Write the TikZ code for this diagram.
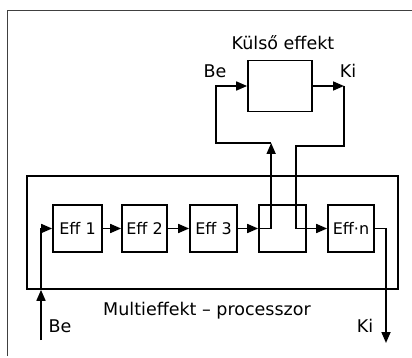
\documentclass[tikz,border=0pt]{standalone}
\usepackage{fontspec}
\setmainfont{DejaVu Sans}
\usetikzlibrary{arrows.meta}

\begin{document}
\begin{tikzpicture}[x=1pt, y=-1pt, line width=1.7pt,
          every node/.style={font=\fontsize{17.5}{20}\selectfont, inner sep=0pt},
          effbox/.style={draw, minimum width=47pt, minimum height=47pt,
                         font=\fontsize{16}{18}\selectfont},
          sig/.style={-{Triangle[length=11pt,width=9pt]}}]
        % Diagram: chain of effect boxes inside the multi-effect processor,
        % the 4th slot is looped out to an external effect box above.
        % Coordinates: (x,y) in pt, y grows downwards
        \useasboundingbox (0,0) rectangle (412,358);
        \draw[line width=0.8pt, black!75] (7,356) -- (7,10) -- (412,10);
        \node[draw, minimum width=371pt, minimum height=113pt]
              (MP) at (212.5,232.5) {};
        \node[effbox, minimum width=49pt] (E1) at (77.5,228.5) {Eff 1};
        \node[effbox, minimum width=45pt] (E2) at (144.5,228.5) {Eff 2};
        \node[effbox] (E3) at (213.5,228.5) {Eff 3};
        \node[effbox] (E4) at (282.5,228.5) {};
        \node[effbox, minimum width=46pt] (En) at (351,228.5) {Eff·n};
        \node[draw, minimum width=64pt, minimum height=51pt]
              (EXT) at (280,86) {};
        % labels
        \node (lExt) at (283,43) {Külső effekt};
        \node (lExtBe) at (215,71) {Be};
        \node (lExtKi) at (348,71) {Ki};
        \node (lMP) at (207,311) {Multieffekt – processzor};
        \node (lBe) at (60,326) {Be};
        \node (lKi) at (365,326) {Ki};
        % signal path
        \coordinate (inB) at (41,340);
        \coordinate (outK) at (386,343);
        \coordinate (sendB) at (216,143);
        \coordinate (retK) at (344,146);
        \draw[sig] (inB) -- (inB |- MP.south);
        \draw[sig] (inB |- MP.south) |- (E1.west);
        \draw[sig] (E1) -- (E2);
        \draw[sig] (E2) -- (E3);
        \draw[sig] (E3) -- (E4);
        \draw[sig] (E4.west) -- ([xshift=13pt]E4.west)
              -- ([xshift=13pt]E4.west |- sendB);
        \draw[sig] ([xshift=13pt]E4.west |- sendB) -- (sendB) |- (EXT.west);
        \draw[sig] (EXT.east) -- (EXT.east -| retK);
        \draw[sig] (EXT.east -| retK) -- (retK) -| ([xshift=-11pt]E4.east)
              -- (En.west);
        \draw[sig] (En.east) -| (outK);
\end{tikzpicture}
\end{document}
